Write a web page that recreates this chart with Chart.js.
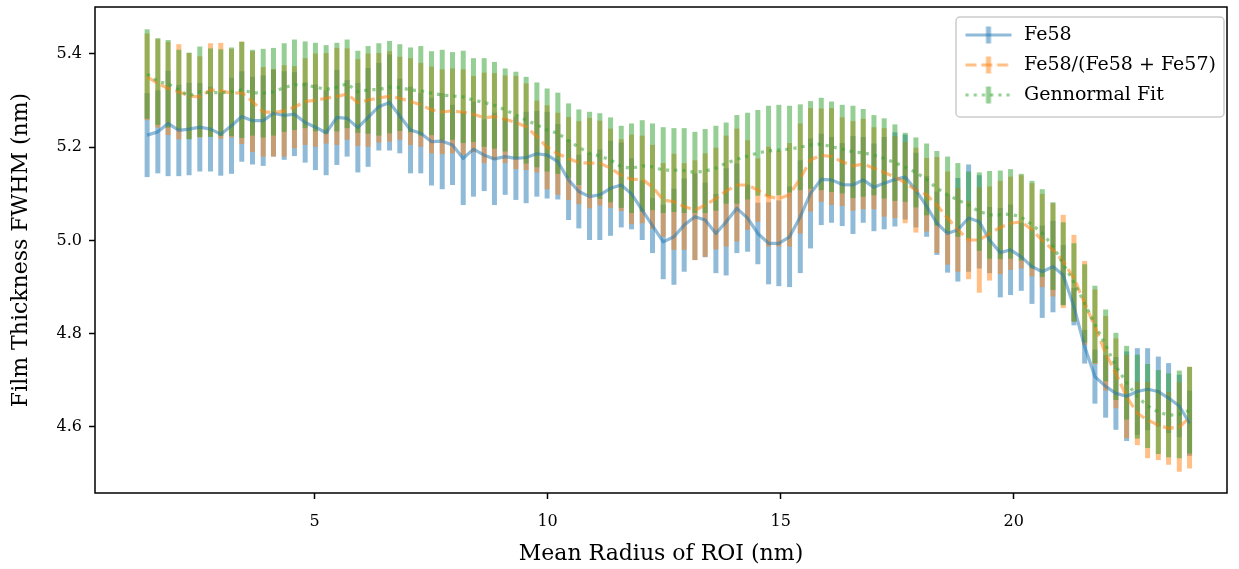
<!DOCTYPE html>
<html>
<head>
<meta charset="utf-8">
<script src="https://cdn.jsdelivr.net/npm/chart.js@4.4.0/dist/chart.umd.min.js"></script>
<style>
  html, body { margin: 0; padding: 0; background: #fff; }
  #wrap { width: 1239px; height: 569px; }
</style>
</head>
<body>
<div id="wrap"><canvas id="fwhmChart" width="1239" height="569"></canvas></div>
<script>
// mean radius of each ROI (nm)
const radius = [
  1.41, 1.64, 1.86, 2.09, 2.31, 2.54, 2.77, 2.99, 3.22, 3.44,
  3.67, 3.90, 4.12, 4.35, 4.57, 4.80, 5.02, 5.25, 5.48, 5.70,
  5.93, 6.15, 6.38, 6.61, 6.83, 7.06, 7.28, 7.51, 7.74, 7.96,
  8.19, 8.41, 8.64, 8.86, 9.09, 9.32, 9.54, 9.77, 9.99, 10.22,
  10.45, 10.67, 10.90, 11.12, 11.35, 11.58, 11.80, 12.03, 12.25, 12.48,
  12.71, 12.93, 13.16, 13.38, 13.61, 13.83, 14.06, 14.29, 14.51, 14.74,
  14.96, 15.19, 15.42, 15.64, 15.87, 16.09, 16.32, 16.55, 16.77, 17.00,
  17.22, 17.45, 17.67, 17.90, 18.13, 18.35, 18.58, 18.80, 19.03, 19.26,
  19.48, 19.71, 19.93, 20.16, 20.39, 20.61, 20.84, 21.06, 21.29, 21.52,
  21.74, 21.97, 22.19, 22.42, 22.65, 22.87, 23.10, 23.32, 23.55, 23.77
];

const fe58 = [
  5.226, 5.233, 5.251, 5.236, 5.239, 5.243, 5.239, 5.228, 5.246, 5.266,
  5.257, 5.257, 5.273, 5.268, 5.271, 5.253, 5.243, 5.231, 5.264, 5.262,
  5.242, 5.264, 5.287, 5.296, 5.267, 5.237, 5.230, 5.212, 5.213, 5.205,
  5.176, 5.196, 5.183, 5.175, 5.180, 5.176, 5.178, 5.186, 5.183, 5.169,
  5.130, 5.105, 5.094, 5.098, 5.112, 5.119, 5.100, 5.065, 5.032, 4.997,
  5.008, 5.033, 5.051, 5.044, 5.015, 5.040, 5.069, 5.048, 5.015, 4.994,
  4.994, 5.008, 5.051, 5.101, 5.131, 5.130, 5.120, 5.119, 5.130, 5.114,
  5.123, 5.131, 5.136, 5.108, 5.073, 5.037, 5.015, 5.023, 5.048, 5.040,
  5.001, 4.974, 4.980, 4.965, 4.944, 4.933, 4.944, 4.926, 4.858, 4.772,
  4.708, 4.687, 4.672, 4.666, 4.676, 4.681, 4.676, 4.662, 4.645, 4.608
];
const fe58Err = [
  0.090, 0.089, 0.113, 0.098, 0.099, 0.095, 0.091, 0.089, 0.103, 0.097,
  0.094, 0.097, 0.093, 0.095, 0.090, 0.086, 0.092, 0.091, 0.102, 0.082,
  0.096, 0.106, 0.094, 0.103, 0.080, 0.093, 0.086, 0.094, 0.103, 0.086,
  0.100, 0.102, 0.077, 0.099, 0.082, 0.089, 0.098, 0.092, 0.093, 0.081,
  0.086, 0.079, 0.093, 0.097, 0.102, 0.091, 0.076, 0.064, 0.059, 0.080,
  0.103, 0.100, 0.093, 0.080, 0.085, 0.115, 0.096, 0.072, 0.066, 0.088,
  0.092, 0.108, 0.121, 0.118, 0.098, 0.092, 0.089, 0.105, 0.092, 0.094,
  0.099, 0.101, 0.091, 0.080, 0.065, 0.068, 0.084, 0.111, 0.115, 0.100,
  0.071, 0.096, 0.097, 0.073, 0.080, 0.099, 0.098, 0.064, 0.040, 0.036,
  0.058, 0.067, 0.078, 0.096, 0.093, 0.088, 0.075, 0.075, 0.067, 0.070
];

const ratio = [
  5.351, 5.337, 5.326, 5.319, 5.310, 5.308, 5.323, 5.321, 5.316, 5.317,
  5.298, 5.276, 5.274, 5.278, 5.286, 5.298, 5.301, 5.305, 5.309, 5.314,
  5.296, 5.301, 5.306, 5.309, 5.305, 5.298, 5.291, 5.280, 5.276, 5.278,
  5.275, 5.271, 5.263, 5.266, 5.260, 5.253, 5.244, 5.223, 5.200, 5.186,
  5.176, 5.167, 5.166, 5.166, 5.155, 5.140, 5.131, 5.131, 5.115, 5.087,
  5.083, 5.073, 5.065, 5.076, 5.090, 5.106, 5.119, 5.119, 5.108, 5.094,
  5.090, 5.098, 5.133, 5.173, 5.183, 5.180, 5.169, 5.160, 5.164, 5.155,
  5.146, 5.136, 5.124, 5.108, 5.098, 5.076, 5.048, 5.023, 5.001, 5.001,
  5.015, 5.028, 5.037, 5.040, 5.023, 5.000, 4.980, 4.955, 4.919, 4.866,
  4.815, 4.758, 4.715, 4.665, 4.629, 4.615, 4.604, 4.597, 4.600, 4.620
];
const ratioErr = [
  0.093, 0.095, 0.100, 0.102, 0.092, 0.087, 0.100, 0.103, 0.095, 0.110,
  0.108, 0.096, 0.094, 0.098, 0.088, 0.093, 0.100, 0.097, 0.104, 0.098,
  0.093, 0.100, 0.096, 0.097, 0.089, 0.093, 0.090, 0.093, 0.091, 0.091,
  0.092, 0.082, 0.097, 0.093, 0.094, 0.100, 0.093, 0.077, 0.090, 0.088,
  0.089, 0.089, 0.097, 0.091, 0.085, 0.077, 0.096, 0.094, 0.090, 0.079,
  0.103, 0.093, 0.107, 0.111, 0.109, 0.119, 0.121, 0.096, 0.068, 0.107,
  0.103, 0.111, 0.118, 0.111, 0.100, 0.104, 0.095, 0.096, 0.097, 0.088,
  0.095, 0.088, 0.087, 0.091, 0.079, 0.103, 0.100, 0.090, 0.084, 0.113,
  0.101, 0.100, 0.100, 0.100, 0.100, 0.100, 0.100, 0.100, 0.093, 0.090,
  0.080, 0.080, 0.075, 0.089, 0.068, 0.082, 0.075, 0.078, 0.096, 0.109
];

const fitCurve = [
  5.357, 5.341, 5.336, 5.323, 5.310, 5.319, 5.317, 5.317, 5.319, 5.323,
  5.317, 5.316, 5.319, 5.328, 5.334, 5.334, 5.329, 5.324, 5.329, 5.336,
  5.319, 5.323, 5.324, 5.329, 5.328, 5.323, 5.321, 5.316, 5.312, 5.310,
  5.308, 5.301, 5.296, 5.290, 5.280, 5.269, 5.258, 5.248, 5.237, 5.230,
  5.214, 5.200, 5.187, 5.181, 5.173, 5.158, 5.155, 5.160, 5.158, 5.151,
  5.151, 5.150, 5.146, 5.149, 5.155, 5.166, 5.174, 5.181, 5.188, 5.192,
  5.194, 5.196, 5.200, 5.205, 5.207, 5.201, 5.196, 5.190, 5.188, 5.183,
  5.176, 5.167, 5.157, 5.146, 5.131, 5.112, 5.098, 5.087, 5.076, 5.062,
  5.055, 5.055, 5.057, 5.050, 5.034, 5.016, 4.988, 4.950, 4.910, 4.865,
  4.820, 4.775, 4.730, 4.695, 4.665, 4.645, 4.632, 4.625, 4.627, 4.636
];
const fitErr = [
  0.096, 0.093, 0.094, 0.086, 0.093, 0.097, 0.095, 0.093, 0.095, 0.103,
  0.092, 0.095, 0.094, 0.095, 0.097, 0.093, 0.095, 0.095, 0.095, 0.095,
  0.088, 0.094, 0.099, 0.099, 0.093, 0.091, 0.096, 0.090, 0.097, 0.094,
  0.099, 0.090, 0.095, 0.093, 0.089, 0.093, 0.093, 0.091, 0.089, 0.087,
  0.080, 0.081, 0.089, 0.092, 0.091, 0.088, 0.096, 0.098, 0.093, 0.092,
  0.090, 0.091, 0.087, 0.090, 0.091, 0.087, 0.095, 0.093, 0.092, 0.097,
  0.097, 0.093, 0.092, 0.094, 0.099, 0.097, 0.095, 0.099, 0.094, 0.086,
  0.086, 0.082, 0.074, 0.075, 0.077, 0.080, 0.082, 0.079, 0.072, 0.084,
  0.094, 0.095, 0.096, 0.093, 0.094, 0.094, 0.094, 0.089, 0.084, 0.084,
  0.083, 0.077, 0.072, 0.079, 0.090, 0.090, 0.090, 0.090, 0.094, 0.093
];

const xTicks = [5, 10, 15, 20];
const yTicks = [4.6, 4.8, 5.0, 5.2, 5.4];
const seriesNames = ["Fe58", "Fe58/(Fe58 + Fe57)", "Gennormal Fit"];

const FONT = "'DejaVu Serif', serif";
const blue = "rgba(31, 119, 180, 0.5)";
const orange = "rgba(255, 127, 14, 0.5)";
const green = "rgba(44, 160, 44, 0.5)";
const LW = 3.2;
const dashed = [11, 4.8];
const dotted = [3.2, 5];

function points(vals) {
  return radius.map((x, i) => ({ x: x, y: vals[i] }));
}

function bars(vals, errs) {
  return radius.map((x, i) => ({ x: x, y: [vals[i] - errs[i], vals[i] + errs[i]] }));
}

function errSet(vals, errs, color, order) {
  return {
    type: "bar",
    data: bars(vals, errs),
    backgroundColor: color,
    borderWidth: 0,
    barThickness: 5,
    grouped: false,
    inflateAmount: 0,
    order: order,
  };
}

function lineSet(label, vals, color, dash, order) {
  return {
    type: "line",
    label: label,
    data: points(vals),
    borderColor: color,
    borderWidth: LW,
    borderDash: dash,
    borderCapStyle: "butt",
    borderJoinStyle: "round",
    pointRadius: 0,
    tension: 0,
    fill: false,
    order: order,
  };
}

// little line + errorbar marker for the legend
function legendSymbol(color, dash) {
  const c = document.createElement("canvas");
  c.width = 52;
  c.height = 22;
  const g = c.getContext("2d");
  g.strokeStyle = color;
  g.lineWidth = LW;
  g.setLineDash(dash);
  g.beginPath();
  g.moveTo(3, 11);
  g.lineTo(49, 11);
  g.stroke();
  g.setLineDash([]);
  g.lineWidth = 5;
  g.beginPath();
  g.moveTo(26, 2.5);
  g.lineTo(26, 19.5);
  g.stroke();
  return c;
}

const symbols = [legendSymbol(blue, []), legendSymbol(orange, dashed), legendSymbol(green, dotted)];
const symbolColors = [blue, orange, green];

const framePlugin = {
  id: "frame",
  afterLayout(chart) {
    const a = chart.chartArea;
    const lg = chart.legend;
    lg.left = a.right - 275.5;
    lg.top = a.top + 7.5;
    lg.right = lg.left + 300;
    lg.bottom = lg.top + 200;
  },
  beforeDraw(chart) {
    const a = chart.chartArea;
    const ctx = chart.ctx;
    const x0 = a.right - 271, x1 = a.right - 3;
    const y0 = a.top + 10, y1 = a.top + 110;
    ctx.save();
    ctx.beginPath();
    ctx.roundRect(x0, y0, x1 - x0, y1 - y0, 4);
    ctx.fillStyle = "rgba(255, 255, 255, 0.8)";
    ctx.fill();
    ctx.strokeStyle = "#cccccc";
    ctx.lineWidth = 1.5;
    ctx.stroke();
    ctx.restore();
  },
  afterDraw(chart) {
    const a = chart.chartArea;
    const ctx = chart.ctx;
    ctx.save();
    ctx.strokeStyle = "#000";
    ctx.lineWidth = 1.5;
    ctx.strokeRect(a.left, a.top, a.right - a.left, a.bottom - a.top);
    ctx.restore();
  },
};

const ctx = document.getElementById("fwhmChart").getContext("2d");

new Chart(ctx, {
  type: "line",
  data: {
    datasets: [
      errSet(fe58, fe58Err, blue, 6),
      errSet(ratio, ratioErr, orange, 5),
      errSet(fitCurve, fitErr, green, 4),
      lineSet(seriesNames[0], fe58, blue, [], 3),
      lineSet(seriesNames[1], ratio, orange, dashed, 2),
      lineSet(seriesNames[2], fitCurve, green, dotted, 1),
    ],
  },
  options: {
    responsive: false,
    animation: false,
    devicePixelRatio: 1,
    events: [],
    layout: { padding: { top: 7, right: 12, left: 0, bottom: 0 } },
    plugins: {
      tooltip: { enabled: false },
      legend: {
        position: "chartArea",
        align: "start",
        labels: {
          usePointStyle: true,
          pointStyleWidth: 52,
          padding: 11,
          color: "#000",
          font: { family: FONT, size: 19 },
          generateLabels: () =>
            seriesNames.map((name, k) => ({
              text: name,
              pointStyle: symbols[k],
              fillStyle: symbolColors[k],
              strokeStyle: symbolColors[k],
              lineWidth: 0,
              hidden: false,
              fontColor: "#000",
              datasetIndex: 3 + k,
            })),
        },
      },
    },
    scales: {
      x: {
        type: "linear",
        min: 0.292,
        max: 24.573,
        offset: false,
        afterFit: (s) => {
          s.height = 76;
          s.paddingLeft = 0;
          s.paddingRight = 0;
        },
        afterBuildTicks: (s) => { s.ticks = xTicks.map((v) => ({ value: v })); },
        grid: { offset: false, drawOnChartArea: false, drawTicks: true, tickLength: 6, tickWidth: 1.5, tickColor: "#000" },
        border: { display: false },
        ticks: {
          color: "#000",
          font: { family: FONT, size: 16 },
          padding: 13,
          maxRotation: 0,
          autoSkip: false,
          callback: (v) => String(v),
        },
        title: {
          display: true,
          text: "Mean Radius of ROI (nm)",
          color: "#000",
          font: { family: FONT, size: 22 },
          padding: { top: 0, bottom: 2 },
        },
      },
      y: {
        type: "linear",
        min: 4.4584,
        max: 5.5008,
        afterFit: (s) => {
          s.width = 95;
          s.paddingTop = 0;
          s.paddingBottom = 0;
        },
        afterBuildTicks: (s) => { s.ticks = yTicks.map((v) => ({ value: v })); },
        grid: { drawOnChartArea: false, drawTicks: true, tickLength: 6, tickWidth: 1.5, tickColor: "#000" },
        border: { display: false },
        ticks: {
          color: "#000",
          font: { family: FONT, size: 16 },
          padding: 7,
          autoSkip: false,
          callback: (v) => v.toFixed(1),
        },
        title: {
          display: true,
          text: "Film Thickness FWHM (nm)",
          color: "#000",
          font: { family: FONT, size: 22 },
          padding: { top: 8, bottom: 0 },
        },
      },
    },
  },
  plugins: [framePlugin],
});
</script>
</body>
</html>
